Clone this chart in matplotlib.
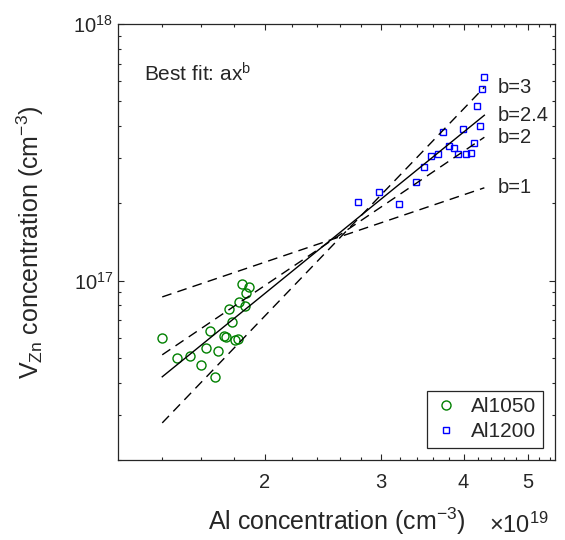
import numpy as np
import matplotlib.pyplot as plt
from matplotlib.ticker import FixedLocator, NullFormatter, LogLocator

plt.rcParams['font.family'] = ['Liberation Sans', 'DejaVu Sans']
plt.rcParams['mathtext.fontset'] = 'custom'
plt.rcParams['mathtext.rm'] = 'Liberation Sans'
plt.rcParams['mathtext.it'] = 'Liberation Sans:italic'

# Al1050 (circles)
al1050_x = [1.398, 1.474, 1.540, 1.630, 1.602, 1.682, 1.702, 1.656, 1.734, 1.749,
            1.786, 1.802, 1.822, 1.765, 1.832, 1.865, 1.876, 1.848, 1.892]
al1050_y = [0.597, 0.499, 0.508, 0.546, 0.467, 0.421, 0.533, 0.639, 0.611, 0.605,
            0.689, 0.588, 0.593, 0.778, 0.826, 0.795, 0.898, 0.968, 0.948]

# Al1200 (squares)
al1200_x = [2.766, 2.977, 3.190, 3.389, 3.486, 3.572, 3.655, 3.728, 3.798, 3.870,
            3.929, 3.995, 4.032, 4.099, 4.142, 4.186, 4.230, 4.264, 4.301]
al1200_y = [2.018, 2.220, 1.988, 2.415, 2.777, 3.064, 3.112, 3.779, 3.343, 3.293,
            3.112, 3.892, 3.112, 3.131, 3.424, 4.771, 3.989, 5.57, 6.24]

# fit lines (end points, x in 1e19, y in 1e17)
fit_x = [1.40, 4.30]
fit_labels = ['b=1', 'b=2', 'b=2.4', 'b=3']
fit_y = {
    'b=1': [0.864, 2.30],
    'b=2': [0.514, 3.62],
    'b=2.4': [0.422, 4.41],
    'b=3': [0.279, 5.67],
}

gray = '#262626'
x1 = np.array(al1050_x) * 1e19
y1 = np.array(al1050_y) * 1e17
x2 = np.array(al1200_x) * 1e19
y2 = np.array(al1200_y) * 1e17
fx = np.array(fit_x) * 1e19

fig = plt.figure(figsize=(5.65, 5.4), dpi=100)
ax = fig.add_axes([118/565, 80/540, 437/565, 436/540])

ax.plot(x1, y1, 'o', ls='none', mfc='none', mec='#008000', mew=1.0, ms=6.5, label='Al1050')
ax.plot(x2, y2, 's', ls='none', mfc='none', mec='#0000ff', mew=1.0, ms=5, label='Al1200')

for lab in fit_labels:
    fy = np.array(fit_y[lab]) * 1e17
    if lab == 'b=2.4':
        ax.plot(fx, fy, '-', color='k', lw=1.0)
    else:
        ax.plot(fx, fy, '--', color='k', lw=1.0, dashes=(7, 4.5))
    ax.text(4.5e19, fy[-1], lab, fontsize=14.5, color=gray, va='center', ha='left')

ax.text(0.06, 0.885, 'Best fit: ax$^{\\mathregular{b}}$', transform=ax.transAxes,
        fontsize=15, color=gray, va='center')

ax.set_xscale('log')
ax.set_yscale('log')
ax.set_xlim(1.2e19, 5.5e19)
ax.set_ylim(2e16, 1e18)

ax.xaxis.set_major_locator(FixedLocator([2e19, 3e19, 4e19, 5e19]))
ax.set_xticklabels(['2', '3', '4', '5'])
minor_x = [v * 1e19 for v in np.arange(1.4, 5.5, 0.2) if abs(v - round(v)) > 0.05]
ax.xaxis.set_minor_locator(FixedLocator(minor_x))
ax.xaxis.set_minor_formatter(NullFormatter())
ax.yaxis.set_major_locator(FixedLocator([1e17, 1e18]))
ax.yaxis.set_minor_locator(LogLocator(base=10, subs=np.arange(2, 10)))
ax.yaxis.set_minor_formatter(NullFormatter())

ax.tick_params(which='both', direction='in', top=True, right=True, colors=gray,
               labelsize=14.5, width=0.8)
ax.tick_params(axis='x', which='major', pad=9)
ax.tick_params(which='major', length=4)
ax.tick_params(which='minor', length=2.5)
for sp in ax.spines.values():
    sp.set_color(gray)
    sp.set_linewidth(0.9)

ax.set_xlabel('Al concentration (cm$^{\\mathregular{-3}}$)', fontsize=18, color=gray, labelpad=10)
ax.set_ylabel('V$_{\\mathregular{Zn}}$ concentration (cm$^{\\mathregular{-3}}$)', fontsize=18,
              color=gray, labelpad=20)
fig.text(489/565, 1 - 525/540, '$\\times$10$^{\\mathregular{19}}$', fontsize=17, color=gray,
         va='center', ha='left')

leg = ax.legend(loc='lower right', fontsize=15, frameon=True, fancybox=False,
                framealpha=1, edgecolor=gray, borderaxespad=0.6, handlelength=1.2,
                handletextpad=0.6, borderpad=0.3, labelspacing=0.3)
leg.get_frame().set_linewidth(0.9)
for t in leg.get_texts():
    t.set_color(gray)

fig.savefig('out.png', dpi=100)
